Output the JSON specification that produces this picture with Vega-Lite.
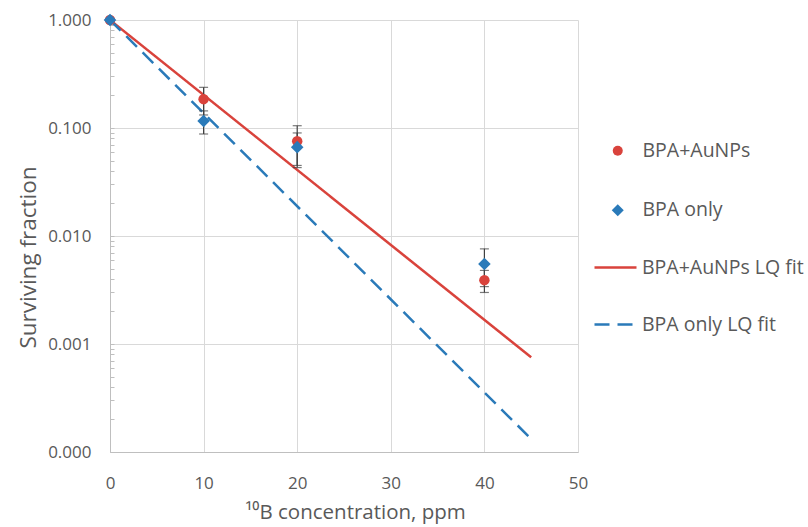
{
  "$schema": "https://vega.github.io/schema/vega-lite/v6.json",
  "width": 468,
  "height": 432,
  "autosize": {"type": "none"},
  "padding": {"left": 110, "top": 20, "right": 230, "bottom": 75},
  "background": "white",
  "config": {
    "view": {"stroke": null},
    "font": "Open Sans",
    "axis": {"gridColor": "#d9d9d9", "gridWidth": 1, "domainColor": "#bfbfbf", "labelColor": "#595959", "titleColor": "#595959", "labelFont": "Open Sans", "titleFont": "Open Sans", "titleFontWeight": "normal"},
    "legend": {"labelColor": "#595959", "labelFont": "Open Sans", "labelFontSize": 19.5}
  },
  "datasets": {
    "points": [
      {"series": "BPA+AuNPs", "ppm": 0, "sf": 1.0, "lo": 1.0, "hi": 1.0},
      {"series": "BPA+AuNPs", "ppm": 10, "sf": 0.185, "lo": 0.132, "hi": 0.238},
      {"series": "BPA+AuNPs", "ppm": 20, "sf": 0.0755, "lo": 0.045, "hi": 0.105},
      {"series": "BPA+AuNPs", "ppm": 40, "sf": 0.0039, "lo": 0.0030, "hi": 0.0048},
      {"series": "BPA only", "ppm": 0, "sf": 1.0, "lo": 1.0, "hi": 1.0},
      {"series": "BPA only", "ppm": 10, "sf": 0.116, "lo": 0.088, "hi": 0.144},
      {"series": "BPA only", "ppm": 20, "sf": 0.0665, "lo": 0.043, "hi": 0.090},
      {"series": "BPA only", "ppm": 40, "sf": 0.0055, "lo": 0.0034, "hi": 0.0076}
    ],
    "fits": [
      {"fit": "BPA+AuNPs LQ fit", "ppm": 0, "sf": 1.0},
      {"fit": "BPA+AuNPs LQ fit", "ppm": 45, "sf": 0.000753},
      {"fit": "BPA only LQ fit", "ppm": 0, "sf": 1.0},
      {"fit": "BPA only LQ fit", "ppm": 45, "sf": 0.000132}
    ]
  },
  "layer": [
    {
      "data": {"name": "fits"},
      "mark": {"type": "line", "strokeWidth": 2.5, "clip": false},
      "encoding": {
        "x": {"field": "ppm", "type": "quantitative", "title": "¹⁰B concentration, ppm",
          "scale": {"domain": [0, 50], "nice": false},
          "axis": {"values": [0, 10, 20, 30, 40, 50], "ticks": false, "domain": true, "grid": true, "labelFontSize": 17, "labelPadding": 23, "titleFontSize": 20.5, "titleX": 245, "titleY": 60, "titleAlign": "center", "titleBaseline": "middle", "labelFlush": false}},
        "y": {"field": "sf", "type": "quantitative", "title": "Surviving fraction",
          "scale": {"type": "log", "domain": [0.0001, 1], "nice": false},
          "axis": {
            "values": [0.0001, 0.0002, 0.0003, 0.0004, 0.0005, 0.0006, 0.0007, 0.0008, 0.0009, 0.001, 0.002, 0.003, 0.004, 0.005, 0.006, 0.007, 0.008, 0.009, 0.01, 0.02, 0.03, 0.04, 0.05, 0.06, 0.07, 0.08, 0.09, 0.1, 0.2, 0.3, 0.4, 0.5, 0.6, 0.7, 0.8, 0.9, 1],
            "labelExpr": "abs(log(datum.value)/LN10 - round(log(datum.value)/LN10)) < 0.000001 ? format(datum.value, '.3f') : ''",
            "labelOverlap": false,
            "labelFlush": false,
            "gridOpacity": {"condition": {"test": "abs(log(datum.value)/LN10 - round(log(datum.value)/LN10)) < 0.000001", "value": 1}, "value": 0},
            "ticks": true, "tickSize": -4, "tickColor": "#bfbfbf",
            "labelFontSize": 17, "labelPadding": 23,
            "titleFontSize": 22.5, "titleAngle": -90, "titleX": -82, "titleY": 237, "titleAlign": "center", "titleBaseline": "middle"
          }},
        "color": {"field": "fit", "type": "nominal",
          "scale": {"domain": ["BPA+AuNPs LQ fit", "BPA only LQ fit"], "range": ["#d9433c", "#2a7ab9"]},
          "legend": {"title": null, "orient": "none", "legendX": 483, "legendY": 225, "padding": 0, "symbolType": "stroke", "symbolSize": 1764, "symbolStrokeWidth": 2.5, "labelOffset": 4, "rowPadding": 25, "labelLimit": 300,
            "encode": {"symbols": {"update": {"strokeDash": {"signal": "datum.value === 'BPA only LQ fit' ? [15, 8] : [1, 0]"}}}}}},
        "strokeDash": {"field": "fit", "type": "nominal",
          "scale": {"domain": ["BPA+AuNPs LQ fit", "BPA only LQ fit"], "range": [[1, 0], [15, 8]]},
          "legend": null}
      }
    },
    {
      "data": {"name": "points"},
      "mark": {"type": "errorbar", "ticks": true, "size": 9, "thickness": 1.2, "color": "#404040"},
      "encoding": {
        "x": {"field": "ppm", "type": "quantitative", "title": "¹⁰B concentration, ppm"},
        "y": {"field": "lo", "type": "quantitative", "title": "Surviving fraction"},
        "y2": {"field": "hi"},
        "detail": {"field": "series", "type": "nominal"}
      }
    },
    {
      "data": {"name": "points"},
      "mark": {"type": "point", "filled": true, "size": 110, "opacity": 1, "clip": false},
      "encoding": {
        "x": {"field": "ppm", "type": "quantitative", "title": "¹⁰B concentration, ppm"},
        "y": {"field": "sf", "type": "quantitative", "title": "Surviving fraction"},
        "color": {"field": "series", "type": "nominal",
          "scale": {"domain": ["BPA+AuNPs", "BPA only"], "range": ["#d9433c", "#2a7ab9"]},
          "legend": {"title": null, "orient": "none", "legendX": 498, "legendY": 121, "padding": 0, "symbolSize": 100, "labelOffset": 15, "rowPadding": 38.5, "symbolOpacity": 1, "labelLimit": 300}},
        "shape": {"field": "series", "type": "nominal",
          "scale": {"domain": ["BPA+AuNPs", "BPA only"], "range": ["circle", "M0,-1.2L1.2,0L0,1.2L-1.2,0Z"]},
          "legend": {"title": null, "orient": "none", "legendX": 498, "legendY": 121, "padding": 0, "symbolSize": 100, "labelOffset": 15, "rowPadding": 38.5, "symbolOpacity": 1, "labelLimit": 300}}
      }
    }
  ],
  "resolve": {"scale": {"color": "independent", "shape": "independent"}}
}
